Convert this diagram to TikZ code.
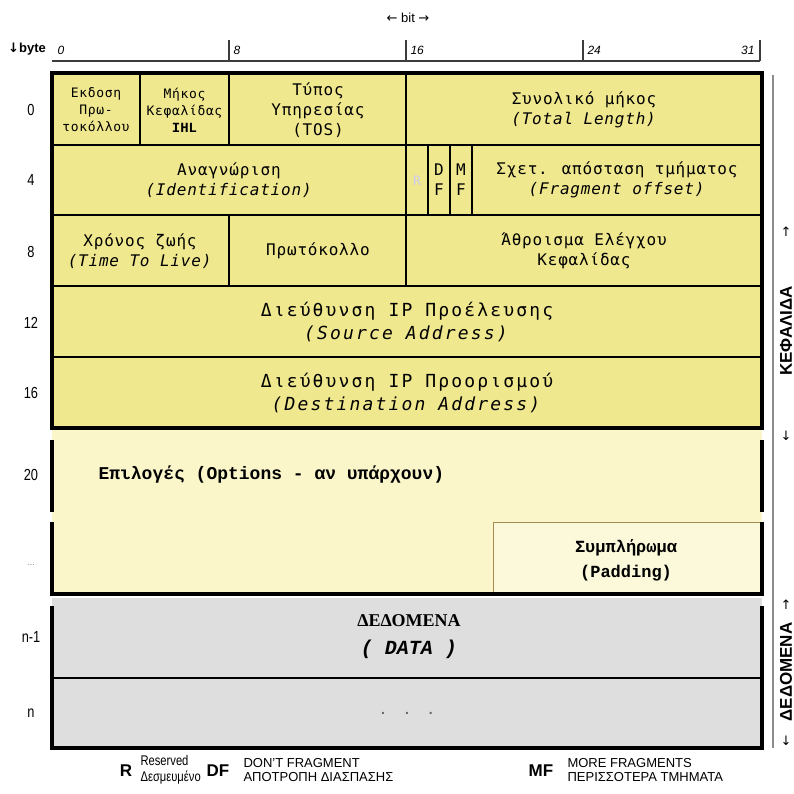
\documentclass[tikz,border=0pt]{standalone}
\usepackage{fontspec}
\setmainfont{Liberation Sans}
\newfontfamily\monofield[LetterSpace=5]{DejaVu Sans Mono}
\newfontfamily\monowide[LetterSpace=12]{DejaVu Sans Mono}
\newfontfamily\courierfont{Liberation Mono}
\newfontfamily\timesfont{Liberation Serif}
\newfontfamily\arrowfont{DejaVu Sans}
\newfontfamily\narrowfont[FakeStretch=0.8]{Liberation Sans}

\definecolor{hdryellow}{RGB}{240,232,142}
\definecolor{optyellow}{RGB}{250,246,202}
\definecolor{datagrey}{RGB}{222,222,222}
\definecolor{padbrown}{RGB}{165,140,85}
\definecolor{rulegrey}{RGB}{60,60,60}

\tikzset{
  field/.style={align=center,font=\fontsize{16}{20}\selectfont\monofield},
  smallfield/.style={align=center,font=\fontsize{13}{17}\selectfont\monofield},
  bigfield/.style={align=center,font=\fontsize{18}{23}\selectfont\monowide},
  rowlbl/.style={font=\fontsize{16}{18}\selectfont\narrowfont},
  bitlbl/.style={font=\fontsize{12}{14}\selectfont\itshape},
  sidelbl/.style={rotate=90,font=\fontsize{17}{19}\selectfont\bfseries},
  sidearrow/.style={font=\fontsize{13}{15}\selectfont\arrowfont},
  keylbl/.style={font=\fontsize{17}{19}\selectfont\bfseries},
  keytxt/.style={anchor=west,align=left,font=\fontsize{13}{14.5}\selectfont},
  inner/.style={line width=1.3pt},
  outer/.style={line width=3.5pt}
}

\begin{document}
\begin{tikzpicture}[x=1pt,y=-1pt]
\useasboundingbox (0,0) rectangle (794,793);
% ruler
\node[font=\fontsize{13}{15}\selectfont] (bit) at (408,18) {{\arrowfont←} bit {\arrowfont→}};
\node[font=\fontsize{13}{15}\selectfont\bfseries] (byte) at (27,49) {{\arrowfont↓}byte};
\draw[rulegrey,line width=2pt] (52,61) -- (760,61);
\foreach \x in {229,406,583,760}{\draw[rulegrey,line width=1.5pt] (\x,40) -- (\x,61);}
\node[bitlbl,anchor=west] (b0) at (54,50) {0};
\foreach \x/\b in {229/8,406/16,583/24}{\node[bitlbl,anchor=west] (b\b) at (\x+1,50) {\b};}
\node[bitlbl,anchor=east] (b31) at (758,50) {31};
% header
\fill[hdryellow] (52,73) rectangle (762,428);
\foreach \y in {145,215,286,357}{\draw[inner] (52,\y) -- (762,\y);}
\foreach \x/\ya/\yb in {140/73/145,229/73/145,406/73/145,406/145/215,428/145/215,450/145/215,472/145/215,229/215/286,406/215/286}{
  \draw[inner] (\x,\ya) -- (\x,\yb);
}
\draw[outer] (52,73) rectangle (762,428);
\node[smallfield] (ver) at (96,110) {Εκδοση\\Πρω-\\τοκόλλου};
\node[smallfield] (ihl) at (184.5,110) {Μήκος\\Κεφαλίδας\\{\courierfont\bfseries\fontsize{14}{17}\selectfont IHL}};
\node[field] (tos) at (318,110) {Τύπος\\Υπηρεσίας\\(TOS)};
\node[field] (len) at (584,110) {Συνολικό μήκος\\\textit{(Total Length)}};
\node[field] (ident) at (229,180) {Αναγνώριση\\\textit{(Identification)}};
\node[smallfield,text=black!25!blue!20!white] (rsv) at (417,181) {R};
\node[field] (df) at (439,180) {D\\F};
\node[field] (mf) at (461,180) {M\\F};
\node[field] (frag) at (617,180) {Σχετ. απόσταση τμήματος\\\textit{(Fragment offset)}};
\node[field] (ttl) at (140,251) {Χρόνος ζωής\\\textit{(Time To Live)}};
\node[field] (proto) at (318,251) {Πρωτόκολλο};
\node[field] (csum) at (584,251) {Άθροισμα Ελέγχου\\Κεφαλίδας};
\node[bigfield] (src) at (407,322) {Διεύθυνση IP Προέλευσης\\\textit{(Source Address)}};
\node[bigfield] (dst) at (407,393) {Διεύθυνση IP Προορισμού\\\textit{(Destination Address)}};
% options
\fill[optyellow] (52,430) rectangle (762,595);
\draw[padbrown,line width=1pt,fill=optyellow!70!white] (493,522) rectangle (762,595);
\foreach \x in {52,762}{
  \draw[outer] (\x,440) -- (\x,512);
  \draw[outer] (\x,522) -- (\x,595);
}
\draw[outer] (50.25,594) -- (763.75,594);
\node[anchor=west,font=\fontsize{18}{20}\selectfont\courierfont\bfseries] (opt) at (95,475) {Επιλογές (Options - αν υπάρχουν)};
\node[align=center,font=\fontsize{17}{25}\selectfont\courierfont\bfseries] (pad) at (626,560) {Συμπλήρωμα\\(Padding)};
% data
\fill[datagrey] (52,598) rectangle (762,748);
\draw[inner,line width=1.8pt] (52,678) -- (762,678);
\foreach \x in {52,762}{\draw[outer] (\x,606) -- (\x,748);}
\draw[outer] (50.25,748) -- (763.75,748);
\node[align=center,font=\fontsize{18}{28}\selectfont\timesfont\bfseries] (data) at (409,637) {ΔΕΔΟΜΕΝΑ\\{\courierfont\itshape\fontsize{20}{28}\selectfont( DATA )}};
\node[font=\fontsize{14}{16}\selectfont\bfseries,text=black!60] (dots) at (407,713) {.\hspace{20pt}.\hspace{20pt}.};
% row offsets
\foreach \y/\r/\n in {110/0/r0,180/4/r4,252/8/r8,323/12/r12,393/16/r16,475/20/r20,637/n-1/rn1,713/n/rn}{
  \node[rowlbl] (\n) at (31,\y) {\r};
}
\node[rowlbl,font=\fontsize{9}{10}\selectfont,text=black!50] (rdots) at (31,565) {...};
% side brackets
\draw[black!45,line width=1.2pt] (773,75) -- (773,748);
\node[sidelbl] (hdr) at (786,331) {ΚΕΦΑΛΙΔΑ};
\node[sidearrow] (hup) at (786,232) {↑};
\node[sidearrow] (hdn) at (786,436) {↓};
\node[sidelbl] (dat) at (786,672) {ΔΕΔΟΜΕΝΑ};
\node[sidearrow] (dup) at (786,605) {↑};
\node[sidearrow] (ddn) at (786,741) {↓};
% key
\node[keylbl] (kr) at (126,771) {R};
\node[keytxt,font=\fontsize{14}{15.5}\selectfont\narrowfont] (krt) at (137,770) {Reserved\\Δεσμευμένο};
\node[keylbl] (kdf) at (218,771) {DF};
\node[keytxt] (kdft) at (240,770) {DON'T FRAGMENT\\ΑΠΟΤΡΟΠΗ ΔΙΑΣΠΑΣΗΣ};
\node[keylbl] (kmf) at (541,771) {MF};
\node[keytxt] (kmft) at (564,770) {MORE FRAGMENTS\\ΠΕΡΙΣΣΟΤΕΡΑ ΤΜΗΜΑΤΑ};
\end{tikzpicture}
\end{document}
